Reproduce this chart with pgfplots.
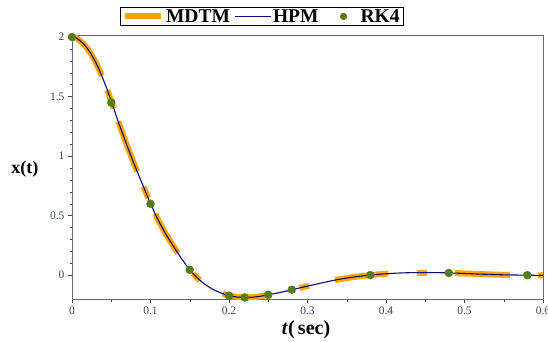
\documentclass[border=0pt]{standalone}
\usepackage{pgfplots}
\pgfplotsset{compat=1.18}
\usepackage{fontspec}
\setmainfont{Liberation Serif}
\definecolor{mdtm}{RGB}{255,165,0}
\definecolor{hpm}{RGB}{10,10,130}
\definecolor{rk}{RGB}{85,125,25}
\definecolor{tickc}{RGB}{60,68,95}
\pgfplotsset{
  mdtmleg/.style={legend image code/.code={\draw[##1] (0pt,0pt) -- (36pt,0pt);}},
  hpmleg/.style={legend image code/.code={\draw[##1] (0pt,0pt) -- (36pt,0pt);}},
  rkleg/.style={legend image code/.code={\path[draw=none,fill=none] (0pt,-1pt) rectangle (36pt,1pt); \fill[rk] (21pt,0pt) circle (3.2pt);}},
}
\begin{document}
\begin{tikzpicture}
\begin{axis}[
  name=ax,
  scale only axis, width=471pt, height=264pt,
  xmin=0, xmax=0.6, ymin=-0.2, ymax=2.017,
  xtick={0,0.1,0.2,0.3,0.4,0.5,0.6},
  ytick={0,0.5,1,1.5,2},
  minor x tick num=1, minor y tick num=4,
  tick align=outside, xtick pos=left, ytick pos=left,
  major tick length=4pt, minor tick length=2.5pt,
  every tick/.style={tickc},
  axis line style={tickc!80},
  tick label style={font=\fontsize{11.5}{12}\selectfont, text=tickc},
  /pgf/number format/assume math mode=true,
  scaled ticks=false,
  ylabel={\textbf{x(t)}},
  ylabel style={rotate=-90, at={(axis description cs:-0.1,0.49)}, anchor=center, font=\fontsize{18}{20}\selectfont},
  xlabel={\textbf{\textit{t}(\,sec)}},
  xlabel style={at={(axis description cs:0.497,-0.117)}, anchor=center, font=\fontsize{20}{22}\selectfont},
  legend columns=3,
  legend style={at={(0.403,1)}, anchor=south, yshift=9pt, draw=black, line width=0.8pt,
    font=\fontsize{19.5}{20}\selectfont\bfseries, inner ysep=0pt, inner xsep=2pt,
    /tikz/every even column/.append style={column sep=2pt}},
]
% MDTM (segments)
\addplot[mdtm, line width=6pt, mdtmleg] coordinates {(0,2)(0.005,1.993)(0.01,1.97)(0.015,1.94)(0.02,1.90)(0.025,1.85)(0.03,1.79)(0.035,1.72)(0.038,1.675)};
\addlegendentry{MDTM}
\addplot[mdtm, line width=6pt, forget plot] coordinates {(0.045,1.555)(0.05,1.46)(0.053,1.40)};
\addplot[mdtm, line width=6pt, forget plot] coordinates {(0.059,1.29)(0.065,1.18)(0.07,1.09)(0.075,1.005)(0.08,0.92)(0.083,0.87)};
\addplot[mdtm, line width=6pt, forget plot] coordinates {(0.091,0.744)(0.097,0.648)};
\addplot[mdtm, line width=6pt, forget plot] coordinates {(0.106,0.515)(0.11,0.46)(0.12,0.34)(0.13,0.235)(0.135,0.185)};
\addplot[mdtm, line width=6pt, forget plot] coordinates {(0.154,0.015)(0.16,-0.025)(0.163,-0.042)};
\addplot[mdtm, line width=6pt, forget plot] coordinates {(0.192,-0.155)(0.2,-0.172)(0.21,-0.183)(0.22,-0.187)(0.23,-0.185)(0.24,-0.177)(0.248,-0.168)};
\addplot[mdtm, line width=6pt, forget plot] coordinates {(0.29,-0.107)(0.302,-0.089)};
\addplot[mdtm, line width=6pt, forget plot] coordinates {(0.335,-0.041)(0.34,-0.035)(0.35,-0.024)(0.36,-0.014)(0.37,-0.006)(0.38,0.001)(0.39,0.007)(0.40,0.012)(0.403,0.013)};
\addplot[mdtm, line width=6pt, forget plot] coordinates {(0.44,0.022)(0.452,0.022)};
\addplot[mdtm, line width=6pt, forget plot] coordinates {(0.488,0.017)(0.49,0.017)(0.50,0.014)(0.51,0.012)(0.52,0.009)(0.53,0.007)(0.54,0.005)(0.55,0.003)(0.558,0.002)};
\addplot[mdtm, line width=6pt, forget plot] coordinates {(0.594,-0.001)(0.6,-0.002)};
% HPM
\addplot[hpm, line width=1.1pt, smooth, hpmleg] coordinates {
(0,2.0)(0.005,1.993)(0.01,1.97)(0.015,1.94)(0.02,1.90)(0.025,1.85)(0.03,1.79)(0.035,1.72)
(0.04,1.64)(0.045,1.555)(0.05,1.46)(0.055,1.365)(0.06,1.27)(0.07,1.09)(0.08,0.92)(0.09,0.76)
(0.10,0.60)(0.11,0.46)(0.12,0.34)(0.13,0.235)(0.14,0.135)(0.15,0.045)(0.16,-0.025)(0.17,-0.08)
(0.18,-0.12)(0.19,-0.15)(0.20,-0.172)(0.21,-0.183)(0.22,-0.187)(0.23,-0.185)(0.24,-0.177)
(0.25,-0.165)(0.26,-0.152)(0.27,-0.138)(0.28,-0.122)(0.29,-0.107)(0.30,-0.092)(0.31,-0.077)
(0.32,-0.062)(0.33,-0.048)(0.34,-0.035)(0.35,-0.024)(0.36,-0.014)(0.37,-0.006)(0.38,0.001)
(0.39,0.007)(0.40,0.012)(0.41,0.016)(0.42,0.019)(0.43,0.021)(0.44,0.022)(0.45,0.022)(0.46,0.022)
(0.47,0.021)(0.48,0.019)(0.49,0.017)(0.50,0.014)(0.51,0.012)(0.52,0.009)(0.53,0.007)(0.54,0.005)
(0.55,0.003)(0.56,0.002)(0.57,0.001)(0.58,0.0)(0.59,-0.001)(0.60,-0.002)};
\addlegendentry{HPM}
% RK4
\addplot[only marks, mark=*, mark size=4pt, color=rk, rkleg] coordinates {
(0,2.0)(0.05,1.45)(0.1,0.60)(0.15,0.045)(0.2,-0.172)(0.22,-0.187)(0.25,-0.165)(0.28,-0.122)(0.38,0.001)(0.48,0.019)(0.58,0.0)};
\addlegendentry{RK4}
\end{axis}
\pgfresetboundingbox
\path[use as bounding box] ([shift={(-72pt,-42pt)}]ax.south west) rectangle ([shift={(5pt,35pt)}]ax.north east);
\end{tikzpicture}
\end{document}
